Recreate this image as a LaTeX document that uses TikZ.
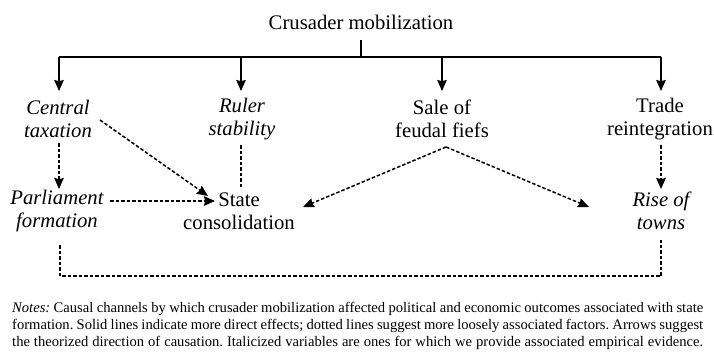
\documentclass[tikz,border=0pt]{standalone}
\usepackage{fontspec}
\setmainfont{Liberation Serif}
\usetikzlibrary{arrows.meta}
\frenchspacing
\begin{document}
\begin{tikzpicture}[x=1pt,y=-1pt,
  lbl/.style={align=center,inner sep=0pt,font=\fontsize{20.7}{23}\selectfont},
  solidarr/.style={line width=1.5pt,-{Stealth[length=11pt,width=9.5pt,inset=1.2pt]}},
  solidln/.style={line width=1.5pt},
  dasharr/.style={line width=1.5pt,dash pattern=on 3.5pt off 2pt,-{Stealth[length=11pt,width=9.5pt,inset=1.2pt]}},
  dashln/.style={line width=1.5pt,dash pattern=on 3.5pt off 2pt},
  notes/.style={anchor=north west,inner sep=0pt,align=left,font=\fontsize{14.6}{16.8}\selectfont}]
\useasboundingbox (0,0) rectangle (714,361);
% nodes
\node[lbl] (title) at (361,22) {Crusader mobilization};
\node[lbl] (ct) at (58,119) {\itshape Central\\\itshape taxation};
\node[lbl] (rs) at (242,119) {\itshape Ruler\\\itshape stability};
\node[lbl] (sf) at (442,119) {Sale of\\feudal fiefs};
\node[lbl] (tr) at (660,119) {Trade\\reintegration};
\node[lbl] (pf) at (57,211) {\itshape Parliament\\\itshape formation};
\node[lbl] (sc) at (239,211) {State\\consolidation};
\node[lbl] (rt) at (661,211) {\itshape Rise of\\\itshape towns};
% coordinates for connector ends
\coordinate (tstem) at (361,40);
\coordinate (barL) at (59,57);
\coordinate (barR) at (661,57);
\coordinate (barC) at (361,57);
\coordinate (ctTop) at (59,91);
\coordinate (rsTop) at (241,91);
\coordinate (sfTop) at (442,91);
\coordinate (trTop) at (661,91);
\coordinate (ctBot) at (59,143);
\coordinate (pfTop) at (59,189);
\coordinate (ctDiag) at (100,120);
\coordinate (scDiagIn) at (208,196);
\coordinate (rsBot) at (241,145);
\coordinate (scTop) at (241,188);
\coordinate (pfRight) at (110,201);
\coordinate (scLeft) at (215,201);
\coordinate (sfApex) at (446,147);
\coordinate (scRight) at (303,207);
\coordinate (rtLeft) at (589,207);
\coordinate (trBot) at (661,145);
\coordinate (rtTop) at (661,189);
\coordinate (pfBot) at (60,245);
\coordinate (rtBot) at (661,240);
\coordinate (loopL) at (60,276);
\coordinate (loopR) at (661,276);
% solid
\draw[solidln] (tstem) -- (barC);
\draw[solidln] (barL) -- (barR);
\draw[solidarr] (barL) -- (ctTop);
\draw[solidarr] (rsTop |- barL) -- (rsTop);
\draw[solidarr] (sfTop |- barL) -- (sfTop);
\draw[solidarr] (barR) -- (trTop);
% dashed
\draw[dasharr] (ctBot) -- (pfTop);
\draw[dasharr] (ctDiag) -- (scDiagIn);
\draw[dashln] (rsBot) -- (scTop);
\draw[dasharr] (pfRight) -- (scLeft);
\draw[dasharr] (sfApex) -- (scRight);
\draw[dasharr] (sfApex) -- (rtLeft);
\draw[dasharr] (trBot) -- (rtTop);
\draw[dashln] (pfBot) -- (loopL) -- (loopR) -- (rtBot);
% notes
\node[notes] (nt) at (12,302) {%
\makebox[691pt][s]{\textit{Notes:} Causal channels by which crusader mobilization affected political and economic outcomes associated with state}\\
\makebox[691pt][s]{formation. Solid lines indicate more direct effects; dotted lines suggest more loosely associated factors. Arrows suggest}\\
\makebox[691pt][s]{the theorized direction of causation. Italicized variables are ones for which we provide associated empirical evidence.}};
\end{tikzpicture}
\end{document}
